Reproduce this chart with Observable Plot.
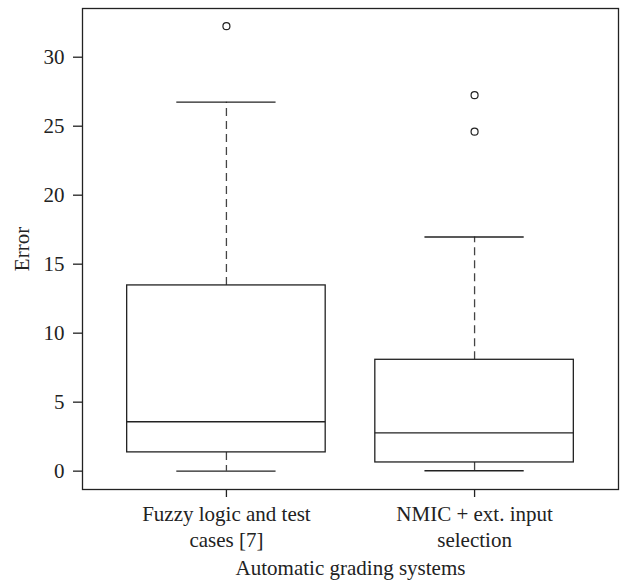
<!DOCTYPE html>
<html>
<head>
<meta charset="utf-8">
<script src="https://cdn.jsdelivr.net/npm/d3@7"></script>
<script src="https://cdn.jsdelivr.net/npm/@observablehq/plot@0.6"></script>
<style>
  body { margin: 0; background: #fff; }
  svg { font-family: "Liberation Serif", "DejaVu Serif", serif; }
</style>
</head>
<body>
<div id="chart"></div>
<script>
const categories = ["Fuzzy logic and test\ncases [7]", "NMIC + ext. input\nselection"];
const positions = [1, 2];
const whiskerLow = [0, 0.03];
const q1 = [1.36, 0.63];
const median = [3.58, 2.78];
const q3 = [13.46, 8.07];
const whiskerHigh = [26.74, 16.97];
const outlierGroup = [1, 2, 2];
const outlierValue = [32.25, 27.25, 24.6];
const yTicks = [0, 5, 10, 15, 20, 25, 30];

const boxes = categories.map((c, i) => ({
  pos: positions[i], lo: whiskerLow[i], q1: q1[i], med: median[i], q3: q3[i], hi: whiskerHigh[i]
}));
const outliers = outlierValue.map((v, i) => ({pos: outlierGroup[i], v}));

const halfBox = 0.4, halfCap = 0.2;

const chart = Plot.plot({
  width: 621,
  height: 580,
  marginLeft: 82,
  marginRight: 3,
  marginTop: 8,
  marginBottom: 91,
  style: {fontFamily: '"Liberation Serif", "DejaVu Serif", serif', fontSize: "21px", color: "#222"},
  x: {domain: [0.42, 2.58]},
  y: {domain: [-1.33, 33.53]},
  marks: [
    Plot.frame({stroke: "#222", strokeWidth: 1.3}),
    // whiskers
    Plot.ruleX(boxes, {x: "pos", y1: "q3", y2: "hi", stroke: "#444", strokeWidth: 1.3, strokeDasharray: "8,5"}),
    Plot.ruleX(boxes, {x: "pos", y1: "q1", y2: "lo", stroke: "#444", strokeWidth: 1.3, strokeDasharray: "8,5"}),
    // caps
    Plot.ruleY(boxes, {y: "hi", x1: d => d.pos - halfCap, x2: d => d.pos + halfCap, stroke: "#222", strokeWidth: 1.3}),
    Plot.ruleY(boxes, {y: "lo", x1: d => d.pos - halfCap, x2: d => d.pos + halfCap, stroke: "#222", strokeWidth: 1.3}),
    // boxes
    Plot.rect(boxes, {x1: d => d.pos - halfBox, x2: d => d.pos + halfBox, y1: "q1", y2: "q3", fill: "white", stroke: "#222", strokeWidth: 1.3}),
    Plot.ruleY(boxes, {y: "med", x1: d => d.pos - halfBox, x2: d => d.pos + halfBox, stroke: "#222", strokeWidth: 1.3}),
    // outliers
    Plot.dot(outliers, {x: "pos", y: "v", r: 3.5, stroke: "#222", strokeWidth: 1.2, fill: "none"}),
    Plot.axisY(yTicks, {
      tickSize: 9, tickPadding: 9, stroke: "#222", strokeWidth: 1.3,
      label: "Error", labelAnchor: "center", labelArrow: "none", labelOffset: 68,
      fontSize: 21
    }),
    Plot.axisX(positions, {
      tickSize: 8, tickPadding: 5, stroke: "#222", strokeWidth: 1.3,
      tickFormat: d => categories[d - 1], lineHeight: 1.25,
      label: "Automatic grading systems", labelAnchor: "center", labelArrow: "none", labelOffset: 85,
      fontSize: 21
    })
  ]
});
document.getElementById("chart").appendChild(chart);
</script>
</body>
</html>
